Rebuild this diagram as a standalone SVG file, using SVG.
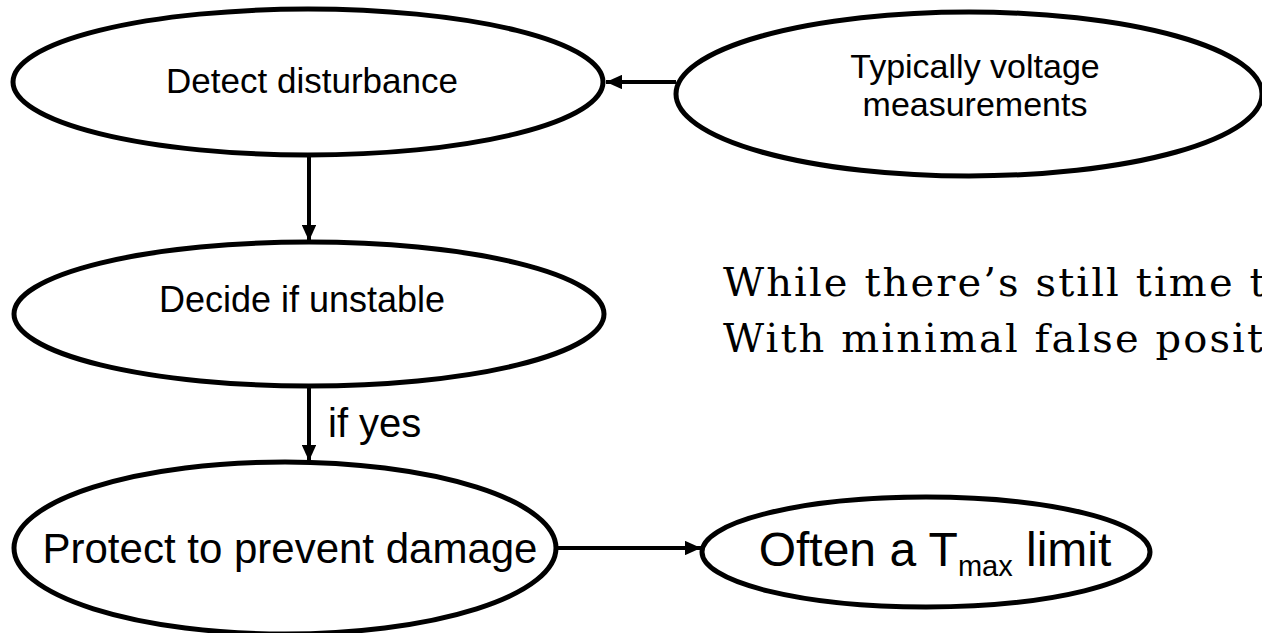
<svg xmlns="http://www.w3.org/2000/svg" width="1262" height="633" viewBox="0 0 1262 633">
<style>
.node{fill:#fff;stroke:#000;stroke-width:5}
.lbl{font-family:"Liberation Sans",Arial,sans-serif;fill:#000;text-anchor:middle}
.edge{stroke:#000;stroke-width:4;fill:none}
.note{font-family:"DejaVu Serif",serif;font-size:40px;letter-spacing:2.1px;fill:#000}
</style>
<defs>
<marker id="ah" markerWidth="4" markerHeight="3.6" refX="4" refY="1.8" orient="auto" markerUnits="strokeWidth">
<path d="M0,0 L4,1.8 L0,3.6 Z" fill="#000"/>
</marker>
</defs>
<rect width="1262" height="633" fill="#fff"/>
<g id="n1"><ellipse class="node" cx="308" cy="82" rx="295" ry="73"/><text class="lbl" x="312" y="93" font-size="35">Detect disturbance</text></g>
<g id="n2"><ellipse class="node" cx="969" cy="94" rx="293" ry="82"/><text class="lbl" x="975" y="78" font-size="34">Typically voltage</text><text class="lbl" x="975" y="116" font-size="34">measurements</text></g>
<g id="n3"><ellipse class="node" cx="309" cy="314" rx="295" ry="72"/><text class="lbl" x="302" y="312" font-size="36">Decide if unstable</text></g>
<g id="n4"><ellipse class="node" cx="285" cy="548" rx="271" ry="86"/><text class="lbl" x="290" y="563" font-size="42">Protect to prevent damage</text></g>
<g id="n5"><ellipse class="node" cx="926" cy="552" rx="224" ry="55"/><text class="lbl" x="935" y="566" font-size="48">Often a T<tspan font-size="29" dy="10">max</tspan><tspan dy="-10"> limit</tspan></text></g>
<g id="connectors">
<line class="edge" x1="676" y1="82" x2="606" y2="82" marker-end="url(#ah)"/>
<line class="edge" x1="309" y1="155" x2="309" y2="241" marker-end="url(#ah)"/>
<line class="edge" x1="309" y1="386" x2="309" y2="461" marker-end="url(#ah)"/>
<text class="lbl" x="328" y="437" font-size="40" style="text-anchor:start">if yes</text>
<line class="edge" x1="556" y1="548" x2="701" y2="548" marker-end="url(#ah)"/>
</g>
<g id="notes">
<text class="note" x="723" y="296">While there’s still time t</text>
<text class="note" x="723" y="352">With minimal false posit</text>
</g>
</svg>
